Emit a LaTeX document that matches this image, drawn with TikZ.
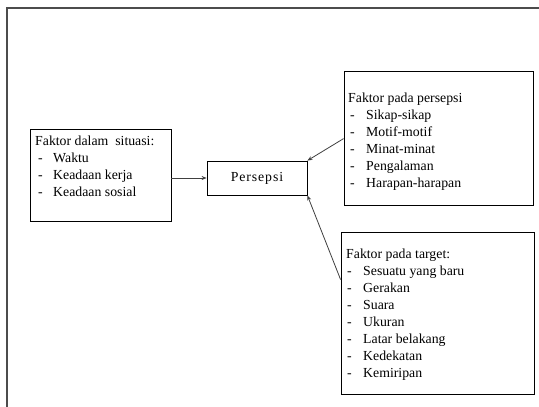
\documentclass[tikz,border=0pt]{standalone}
\usepackage{fontspec}
\setmainfont{Liberation Serif}
\usetikzlibrary{arrows.meta,calc}
\newcommand{\lsp}{\kern0.9pt}
\begin{document}
\begin{tikzpicture}[x=1pt,y=-1pt,
  box/.style={draw=black,line width=0.8pt,inner sep=0pt,fill=none},
  txt/.style={anchor=base west,inner sep=0pt,font=\rmfamily\fontsize{13.8}{17}\selectfont},
  conn/.style={draw=black!75,line width=0.8pt,-{Stealth[length=5pt,width=4pt]}}]
\useasboundingbox (0,0) rectangle (539,407);
\fill[white] (0,0) rectangle (539,407);
% outer frame (partly cropped)
\draw[black!70,line width=1.4pt] (7,410) -- (7,8) -- (545,8);
% boxes
\node[box,minimum width=141pt,minimum height=92pt] (lbox) at (100.5,175) {};
\node[box,minimum width=100pt,minimum height=34pt] (pers) at (257,178) {};
\node[box,minimum width=189pt,minimum height=134pt] (tbox) at (438.5,138) {};
\node[box,minimum width=193pt,minimum height=162pt] (bbox) at (437.5,313) {};
\node[anchor=center,inner sep=0pt,font=\rmfamily\fontsize{13.8}{17}\selectfont] (perstxt) at (pers.center) {P\lsp e\lsp r\lsp s\lsp e\lsp p\lsp s\lsp i};
% left box text
\node[txt] (l0) at (35,145) {Faktor dalam\ \ situasi:};
\foreach \t [count=\i] in {Waktu,Keadaan kerja,Keadaan sosial}{
  \node[txt] (ld\i) at (38,{145+17*\i}) {-};
  \node[txt] (lt\i) at (53,{145+17*\i}) {\t};
}
% top right box text
\node[txt] (t0) at (348,102) {Faktor pada persepsi};
\foreach \t [count=\i] in {Sikap-sikap,Motif-motif,Minat-minat,Pengalaman,Harapan-harapan}{
  \node[txt] (td\i) at (350,{102+17*\i}) {-};
  \node[txt] (tt\i) at (366,{102+17*\i}) {\t};
}
% bottom right box text
\node[txt] (b0) at (346,258) {Faktor pada target:};
\foreach \t [count=\i] in {Sesuatu yang baru,Gerakan,Suara,Ukuran,Latar belakang,Kedekatan,Kemiripan}{
  \node[txt] (bd\i) at (347,{258+17*\i}) {-};
  \node[txt] (bt\i) at (363,{258+17*\i}) {\t};
}
% connectors
\draw[conn] (pers.west -| lbox.east) -- (pers.west);
\coordinate (tstart) at ($(tbox.north west)+(0,68)$);
\draw[conn] (tstart) -- (pers.north east);
\coordinate (bstart) at ($(bbox.north west)+(0,48)$);
\draw[conn] (bstart) -- (pers.south east);
\end{tikzpicture}
\end{document}
